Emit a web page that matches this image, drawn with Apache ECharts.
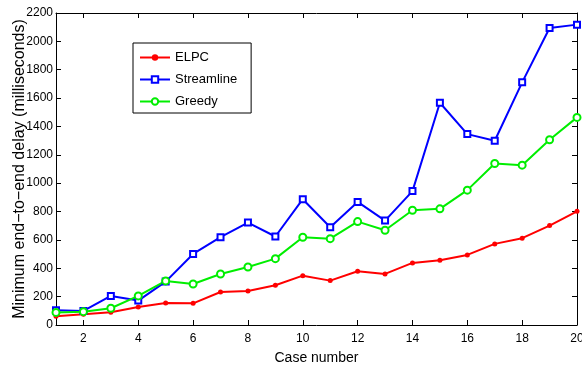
<!DOCTYPE html>
<html>
<head>
<meta charset="utf-8">
<script src="https://cdn.jsdelivr.net/npm/echarts@6/dist/echarts.min.js"></script>
<style>
  html, body { margin: 0; padding: 0; background: #fff; }
  #chart { width: 582px; height: 366px; }
</style>
</head>
<body>
<div id="chart"></div>
<script>
const cases = [1, 2, 3, 4, 5, 6, 7, 8, 9, 10, 11, 12, 13, 14, 15, 16, 17, 18, 19, 20]
const elpc = [62, 75, 90, 127, 155, 153, 233, 240, 280, 348, 313, 379, 360, 438, 456, 494, 572, 612, 701, 802]
const streamline = [104, 99, 205, 172, 306, 501, 619, 722, 624, 887, 689, 868, 736, 944, 1567, 1346, 1299, 1711, 2094, 2118]
const greedy = [89, 94, 118, 205, 311, 289, 360, 409, 468, 619, 609, 729, 668, 809, 819, 951, 1139, 1127, 1306, 1464]
const xTicks = [2, 4, 6, 8, 10, 12, 14, 16, 18, 20]

const font = 'Liberation Sans, Arial, sans-serif'
const chart = echarts.init(document.getElementById('chart'))

function pairs(vals) {
  return cases.map((c, i) => [c, vals[i]])
}

// matlab style box: the second x and y axes only draw the frame and inner ticks
const xBase = {
  type: 'value',
  min: 1,
  max: 20,
  axisLine: { show: true, onZero: false, lineStyle: { color: '#000', width: 1 } },
  axisTick: { show: true, inside: true, length: 5, customValues: xTicks, lineStyle: { color: '#000' } },
  splitLine: { show: false }
}
const yBase = {
  type: 'value',
  min: 0,
  max: 2200,
  interval: 200,
  axisLine: { show: true, lineStyle: { color: '#000', width: 1 } },
  axisTick: { show: true, inside: true, length: 5, lineStyle: { color: '#000' } },
  splitLine: { show: false }
}

const option = {
  animation: false,
  backgroundColor: '#fff',
  textStyle: { fontFamily: font },
  grid: { left: 56, right: 5, top: 13, bottom: 41, outerBoundsMode: 'none' },
  legend: {
    orient: 'vertical',
    left: 133,
    top: 43,
    padding: [8, 14, 5, 6],
    itemWidth: 30,
    itemHeight: 8,
    itemGap: 9,
    backgroundColor: '#fff',
    borderColor: '#000',
    borderWidth: 1,
    textStyle: { color: '#000', fontSize: 13, fontFamily: font },
    data: ['ELPC', 'Streamline', 'Greedy']
  },
  xAxis: [
    Object.assign({}, xBase, {
      position: 'bottom',
      name: 'Case number',
      nameLocation: 'middle',
      nameGap: 26,
      nameMoveOverlap: false,
      nameTextStyle: { color: '#000', fontSize: 14, fontFamily: font },
      axisLabel: { color: '#000', fontSize: 12, margin: 8, customValues: xTicks, fontFamily: font }
    }),
    Object.assign({}, xBase, { position: 'top', axisLabel: { show: false } })
  ],
  yAxis: [
    Object.assign({}, yBase, {
      position: 'left',
      name: 'Minimum end\u2212to\u2212end delay (milliseconds)',
      nameLocation: 'middle',
      nameGap: 28,
      nameMoveOverlap: false,
      nameTextStyle: { color: '#000', fontSize: 16, fontFamily: font },
      axisLabel: { color: '#000', fontSize: 12, margin: 3, fontFamily: font, formatter: v => String(v) }
    }),
    Object.assign({}, yBase, { position: 'right', axisLabel: { show: false } })
  ],
  series: [
    {
      name: 'ELPC',
      type: 'line',
      symbol: 'circle',
      symbolSize: 5,
      color: '#ff0000',
      lineStyle: { width: 2 },
      data: pairs(elpc)
    },
    {
      name: 'Streamline',
      type: 'line',
      symbol: 'emptyRect',
      symbolSize: 6,
      color: '#0000ff',
      lineStyle: { width: 2 },
      itemStyle: { borderWidth: 1.5 },
      data: pairs(streamline)
    },
    {
      name: 'Greedy',
      type: 'line',
      symbol: 'emptyCircle',
      symbolSize: 7,
      color: '#00ee00',
      lineStyle: { width: 2 },
      itemStyle: { borderWidth: 1.5 },
      data: pairs(greedy)
    }
  ]
}
chart.setOption(option)
</script>
</body>
</html>
